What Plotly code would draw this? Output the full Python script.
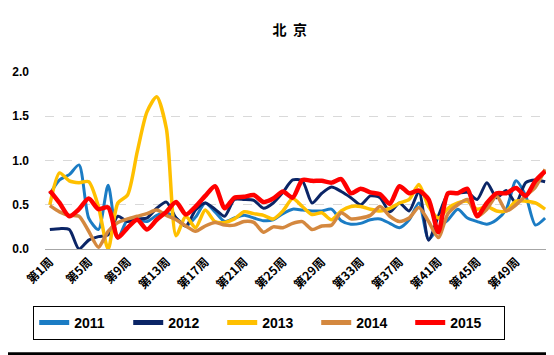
import plotly.graph_objects as go

weeks = [f"第{i}周" for i in range(1, 53)]
tick_weeks = ["第1周", "第5周", "第9周", "第13周", "第17周", "第21周", "第25周",
              "第29周", "第33周", "第37周", "第41周", "第45周", "第49周"]

y2011 = [0.62, 0.78, 0.84, 0.95, 0.35, 0.22, 0.72, 0.12, 0.33, 0.33,
         0.31, 0.38, 0.41, 0.35, 0.26, 0.36, 0.52, 0.42, 0.31, 0.35,
         0.38, 0.35, 0.32, 0.33, 0.40, 0.45, 0.44, 0.43, 0.43, 0.45,
         0.32, 0.28, 0.29, 0.33, 0.34, 0.29, 0.24, 0.33, 0.52, 0.11,
         0.24, 0.33, 0.45, 0.35, 0.31, 0.28, 0.33, 0.45, 0.77, 0.60,
         0.27, 0.35]
y2012 = [0.22, 0.23, 0.22, 0.00, 0.10, 0.14, 0.16, 0.37, 0.31, 0.34,
         0.35, 0.46, 0.53, 0.35, 0.26, 0.44, 0.52, 0.45, 0.37, 0.56,
         0.56, 0.55, 0.46, 0.52, 0.64, 0.78, 0.77, 0.52, 0.63, 0.70,
         0.65, 0.58, 0.50, 0.60, 0.58, 0.42, 0.52, 0.43, 0.65, 0.10,
         0.37, 0.62, 0.63, 0.64, 0.56, 0.75, 0.58, 0.66, 0.52, 0.75,
         0.78, 0.76]
y2013 = [0.50, 0.86, 0.77, 0.75, 0.76, 0.48, 0.00, 0.52, 0.61, 1.10,
         1.55, 1.72, 1.36, 0.15, 0.37, 0.24, 0.44, 0.31, 0.30, 0.34,
         0.42, 0.40, 0.38, 0.34, 0.43, 0.57, 0.48, 0.39, 0.41, 0.33,
         0.43, 0.48, 0.48, 0.45, 0.43, 0.46, 0.52, 0.56, 0.73, 0.48,
         0.35, 0.46, 0.52, 0.54, 0.45, 0.48, 0.43, 0.43, 0.54, 0.54,
         0.52, 0.45]
y2014 = [0.49, 0.42, 0.38, 0.37, 0.20, 0.02, 0.20, 0.30, 0.34, 0.37,
         0.40, 0.44, 0.38, 0.33, 0.26, 0.20, 0.26, 0.30, 0.27, 0.27,
         0.31, 0.30, 0.19, 0.25, 0.24, 0.29, 0.31, 0.22, 0.26, 0.27,
         0.41, 0.34, 0.35, 0.38, 0.48, 0.37, 0.31, 0.35, 0.47, 0.31,
         0.13, 0.40, 0.50, 0.56, 0.37, 0.45, 0.60, 0.43, 0.50, 0.60,
         0.70, 0.90]
y2015 = [0.66, 0.52, 0.37, 0.45, 0.57, 0.45, 0.47, 0.13, 0.24, 0.33,
         0.22, 0.33, 0.42, 0.53, 0.39, 0.48, 0.60, 0.71, 0.46, 0.58,
         0.59, 0.61, 0.53, 0.57, 0.65, 0.58, 0.78, 0.77, 0.77, 0.75,
         0.79, 0.63, 0.68, 0.64, 0.62, 0.51, 0.71, 0.63, 0.66, 0.56,
         0.19, 0.63, 0.63, 0.68, 0.37, 0.52, 0.63, 0.63, 0.69, 0.60,
         0.77, 0.88]

series = [
    ("2011", y2011, "#1B7CC4", 3),
    ("2012", y2012, "#0B2566", 3),
    ("2013", y2013, "#FFC000", 3.5),
    ("2014", y2014, "#D4883F", 3.5),
    ("2015", y2015, "#FF0000", 4.5),
]

fig = go.Figure()
for name, ys, color, w in series:
    fig.add_trace(go.Scatter(
        x=weeks, y=ys, name=name, mode="lines",
        line=dict(color=color, width=w, shape="spline", smoothing=0.7),
    ))

# page body has an 8px default margin, so the figure is sized to fill the rest
fig.update_layout(
    width=546, height=347,
    margin=dict(l=35, r=4, t=64, b=106),
    paper_bgcolor="white", plot_bgcolor="white",
    font=dict(family="Liberation Sans, Arial, sans-serif", color="black"),
    title=dict(text="<b>北  京</b>", x=0.516, xanchor="center", y=0.936, yanchor="middle",
               font=dict(family="Noto Sans CJK SC", size=14, color="black")),
    showlegend=True,
    legend=dict(orientation="h", x=0.444, xanchor="center", y=-0.322, yanchor="top",
                bordercolor="black", borderwidth=1, bgcolor="white",
                entrywidth=49, entrywidthmode="pixels",
                font=dict(family="Liberation Sans, Arial", size=14, color="black", weight="bold"),
                itemsizing="constant"),
    shapes=[dict(type="rect", xref="paper", yref="paper", x0=-0.08, x1=1.02,
                 y0=-0.61, y1=-0.583, fillcolor="black", line=dict(width=0))],
)

fig.update_xaxes(
    type="category", categoryorder="array", categoryarray=weeks,
    tickmode="array", tickvals=tick_weeks, ticktext=tick_weeks,
    tickangle=-45, showgrid=False, showline=True, linecolor="#A6A6A6", linewidth=1,
    ticks="", tickfont=dict(family="Noto Sans CJK SC", size=12, color="black", weight="bold"),
    range=[-0.5, 51.5],
)
fig.update_yaxes(
    range=[0, 2.0], tickvals=[0, 0.5, 1.0, 1.5, 2.0], ticktext=["0.0", "0.5", "1.0", "1.5", "2.0"],
    showgrid=True, gridcolor="#D9D9D9", griddash="dash", gridwidth=1,
    zeroline=False, showline=False, ticks="", ticklabelstandoff=15,
    tickfont=dict(family="Liberation Sans, Arial", size=12, color="black", weight="bold"),
)

fig.write_html("out.html")
